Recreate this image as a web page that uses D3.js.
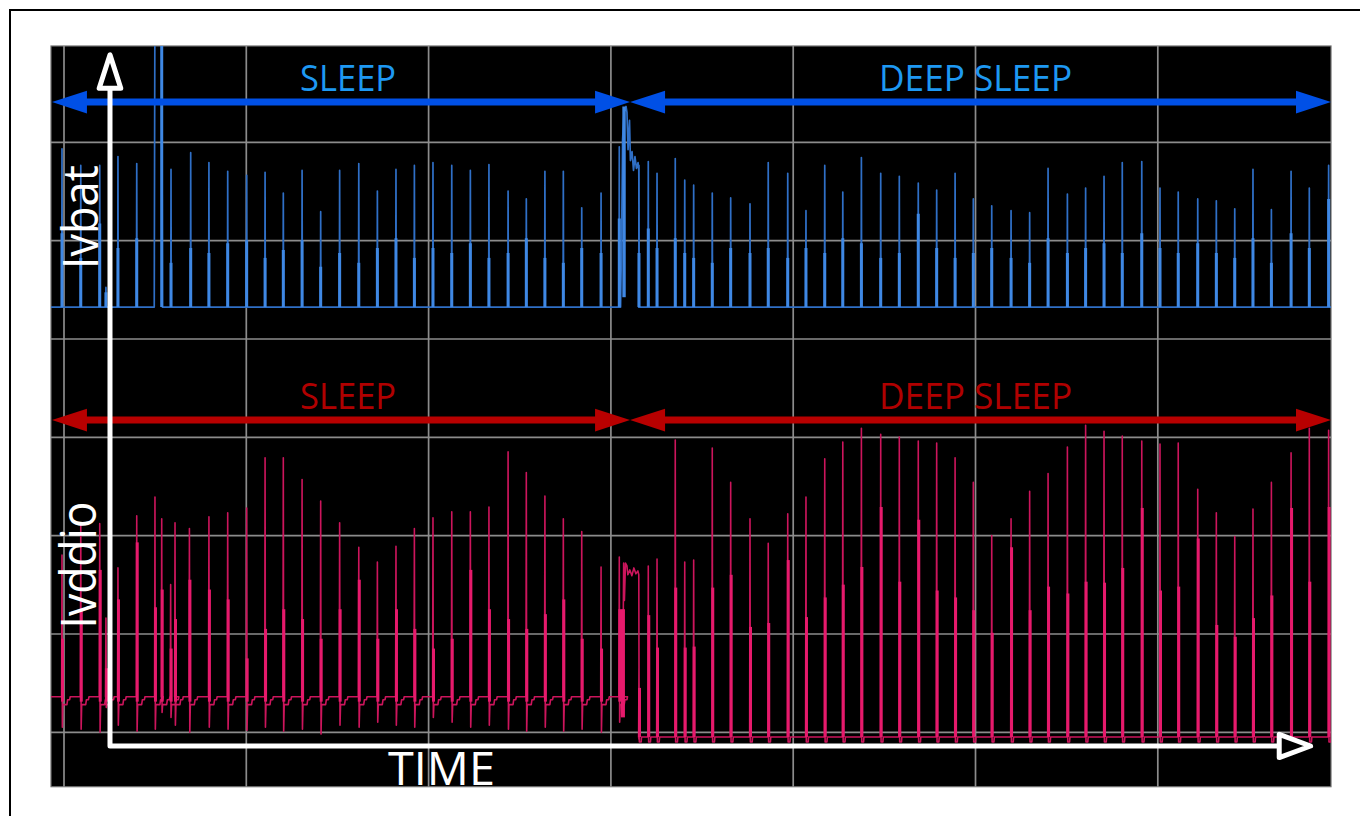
<!DOCTYPE html>
<html><head><meta charset="utf-8">
<script src="https://cdn.jsdelivr.net/npm/d3@7"></script>
<style>body{margin:0;background:#fff}svg{display:block}</style>
</head><body><svg id="c" width="1360" height="816"></svg>
<script>
// ---------------- DATA (time in ms, amplitude in screen divisions) ----------------
const gridTimes = [0, 10, 20, 30, 40, 50, 60];
const gridLevels = [0, 1, 2, 3, 4, 5, 6];

const phaseNames = ["SLEEP", "DEEP SLEEP"];
const phaseStart = [-0.66, 31.05];
const phaseEnd = [31.05, 69.50];
const phaseLabelT = [12.95, 44.71];

const channelNames = ["Ivbat", "Ivddio"];

// Ivbat (blue) pulses
const ivbatT = [-0.11, 0.92, 1.96, 2.30, 2.96, 3.99, 5.87, 6.95, 7.95, 8.98,
  10.02, 11.03, 12.03, 13.06, 14.08, 15.12, 16.17, 17.19, 18.21, 19.22,
  20.24, 21.27, 22.29, 23.31, 24.36, 25.36, 26.38, 27.39, 28.40, 29.46, 30.46,
  31.54, 32.05, 32.53, 33.53, 34.05, 34.54, 35.56, 36.57, 37.63, 38.63,
  39.70, 40.70, 41.73, 42.72, 43.74, 44.80, 45.82, 46.86, 47.87, 48.88,
  49.88, 50.89, 51.95, 52.97, 53.98, 55.04, 56.04, 57.05, 58.05, 59.12,
  60.12, 61.12, 62.19, 63.21, 64.22, 65.22, 66.23, 67.31, 68.31, 69.37];
const ivbatPeak = [1.61, 1.44, 1.44, 0.20, 1.53, 1.46, 1.40, 1.57, 1.47, 1.38,
  1.34, 1.37, 1.16, 1.39, 0.97, 1.39, 1.46, 1.18, 1.40, 1.44,
  1.47, 1.44, 1.39, 1.45, 1.18, 1.10, 1.38, 1.38, 1.01, 1.16, 1.63,
  1.44, 1.48, 1.36, 1.51, 1.29, 1.24, 1.16, 1.11, 1.05, 1.47,
  1.36, 0.98, 1.44, 1.17, 1.52, 1.36, 1.33, 1.26, 1.19, 1.36,
  1.10, 1.03, 0.98, 0.96, 1.41, 1.15, 1.21, 1.33, 1.47, 1.48,
  1.21, 1.17, 1.10, 1.08, 1.00, 1.40, 0.99, 1.38, 1.21, 1.44];
const ivbatMid = [0.75, 0.50, 0.85, 0.15, 0.60, 0.70, 0.45, 0.60, 0.55, 0.65,
  0.68, 0.50, 0.58, 0.68, 0.41, 0.55, 0.45, 0.60, 0.70, 0.50,
  0.60, 0.55, 0.65, 0.50, 0.55, 0.70, 0.50, 0.45, 0.60, 0.55, 0.90,
  0.55, 0.80, 0.60, 0.70, 0.55, 0.50, 0.45, 0.60, 0.55, 0.60,
  0.50, 0.60, 0.55, 0.70, 0.65, 0.50, 0.55, 0.95, 0.60, 0.50,
  0.55, 0.60, 0.50, 0.45, 0.70, 0.55, 0.60, 0.65, 0.55, 0.75,
  0.60, 0.55, 0.65, 0.55, 0.50, 0.70, 0.45, 0.75, 0.60, 1.10];
// wide blue pulse that leaves the screen, and the sleep->deep-sleep transition burst
const ivbatWideT = [4.95, 4.99, 5.36, 5.40];
const ivbatWideV = [0, 3.3, 3.3, 0];
const ivbatBurstT = [30.53, 30.58, 30.64, 30.72, 30.83, 30.88, 30.94, 31.02, 31.07, 31.16, 31.24, 31.32, 31.40, 31.49, 31.53, 31.55];
const ivbatBurstV = [0, 0.58, 1.70, 1.98, 2.04, 1.98, 1.60, 1.90, 1.49, 1.58, 1.39, 1.53, 1.41, 1.47, 1.39, 0];

// Ivddio (pink) pulses - sleep
const ivddioSleepT = [-0.11, 0.92, 1.96, 2.30, 2.96, 3.99, 4.99, 5.36, 5.85, 6.09,
  6.88, 7.95, 8.98, 10.02, 11.03, 12.03, 13.06, 14.08, 15.12, 16.17,
  17.19, 18.21, 19.22, 20.24, 21.27, 22.29, 23.31, 24.36, 25.36, 26.38,
  27.39, 28.40, 29.46, 30.46];
const ivddioSleepPeak = [1.85, 2.18, 2.17, 1.21, 1.72, 2.25, 2.44, 2.22, 1.55, 2.18,
  2.12, 2.24, 2.28, 2.33, 2.84, 2.84, 2.62, 2.40, 2.18, 1.93,
  1.78, 1.94, 2.12, 2.23, 2.29, 2.29, 2.34, 2.90, 2.69, 2.45,
  2.22, 2.09, 1.73, 1.83];
const ivddioSleepMid = [1.00, 1.30, 1.70, 0.70, 1.40, 1.98, 1.32, 1.50, 0.90, 1.20,
  1.60, 1.50, 1.40, 0.80, 1.10, 1.30, 1.20, 1.00, 1.30, 1.60,
  1.00, 1.30, 1.10, 0.90, 1.00, 1.70, 1.30, 1.20, 1.10, 1.25,
  1.40, 1.00, 0.90, 1.30];
const ivddioSleepDip = [0.10, 0.08, 0.05, 0.30, 0.12, 0.06, 0.08, 0.25, 0.20, 0.12,
  0.05, 0.10, 0.08, 0.07, 0.10, 0.06, 0.08, 0.03, 0.12, 0.10,
  0.15, 0.12, 0.10, 0.20, 0.15, 0.10, 0.12, 0.08, 0.06, 0.10,
  0.06, 0.08, 0.05, 0.15];
const ivddioSleepLevel = 0.41;
// transition burst
const ivddioBurstT = [30.50, 30.54, 30.58, 30.62, 30.66, 30.70, 30.74, 30.80, 30.88, 30.93, 31.04, 31.15, 31.26, 31.37, 31.48, 31.53, 31.55];
const ivddioBurstV = [0.41, 0.99, 0.38, 1.29, 0.78, 1.77, 1.39, 1.77, 1.74, 1.65, 1.70, 1.64, 1.72, 1.66, 1.69, 1.65, -0.03];
// Ivddio - deep sleep
const ivddioDeepT = [31.54, 32.05, 32.53, 33.53, 34.05, 34.54, 35.56, 36.57, 37.63, 38.63,
  39.70, 40.70, 41.73, 42.72, 43.74, 44.80, 45.82, 46.86, 47.87, 48.88,
  49.88, 50.89, 51.95, 52.97, 53.98, 55.04, 56.04, 57.05, 58.05, 59.12,
  60.12, 61.12, 62.19, 63.21, 64.22, 65.22, 66.23, 67.31, 68.31, 69.37];
const ivddioDeepPeak = [0.70, 1.74, 1.81, 3.02, 1.78, 1.80, 2.94, 2.59, 2.22, 1.97,
  2.27, 2.44, 2.83, 3.00, 3.14, 3.08, 3.05, 3.01, 2.99, 2.84,
  2.59, 2.05, 2.22, 2.50, 2.68, 2.95, 3.17, 3.11, 3.06, 3.01,
  2.98, 2.99, 2.52, 2.28, 2.04, 2.32, 2.59, 2.89, 3.14, 3.12];
const ivddioDeepMid = [0.50, 1.24, 0.91, 1.52, 0.91, 0.92, 1.52, 1.65, 1.12, 1.16,
  1.80, 1.22, 1.42, 1.55, 1.73, 2.34, 1.58, 2.21, 1.49, 1.42,
  1.29, 1.06, 1.93, 1.29, 1.53, 1.46, 1.58, 1.57, 1.72, 2.33,
  1.49, 1.53, 2.02, 1.14, 1.02, 1.21, 1.44, 2.33, 1.58, 2.34];

// channel vertical offsets (divisions) on the screen
const channelOffset = [4.325, -0.048];

// ---------------- CHART ----------------
const svg = d3.select("#c");
const x = d3.scaleLinear().domain([-0.713, 69.50]).range([51, 1331]);
const y = d3.scaleLinear().domain([-0.553, 6.98]).range([786.7, 46]);
const [t0, t1] = x.domain(), [v0, v1] = y.domain();

// outer frame (only top/left visible)
svg.append("rect").attr("x", 10).attr("y", 10).attr("width", 1400).attr("height", 900)
  .attr("fill", "none").attr("stroke", "#000").attr("stroke-width", 2);

// screen
svg.append("rect").attr("x", x(t0)).attr("y", y(v1)).attr("width", x(t1) - x(t0)).attr("height", y(v0) - y(v1))
  .attr("fill", "#000").attr("stroke", "#6e6e6e").attr("stroke-width", 1.2);

svg.append("clipPath").attr("id", "clip").append("rect")
  .attr("x", x(t0)).attr("y", y(v1)).attr("width", x(t1) - x(t0)).attr("height", y(v0) - y(v1));

const grid = svg.append("g").attr("stroke", "#8c8c8c").attr("stroke-width", 1.7);
grid.selectAll("line.v").data(gridTimes).join("line").attr("class", "v")
  .attr("x1", d => x(d)).attr("x2", d => x(d)).attr("y1", y(v1)).attr("y2", y(v0));
grid.selectAll("line.h").data(gridLevels).join("line").attr("class", "h")
  .attr("x1", x(t0)).attr("x2", x(t1)).attr("y1", d => y(d)).attr("y2", d => y(d));

const plot = svg.append("g").attr("clip-path", "url(#clip)");
const line = d3.line().x(d => x(d[0])).y(d => y(d[1]));

// ---- Ivbat trace ----
(function () {
  const off = channelOffset[0];
  const events = [];
  ivbatT.forEach((t, i) => events.push({ t, p: [[t - 0.015, 0], [t, ivbatPeak[i]], [t + 0.015, 0]] }));
  events.push({ t: ivbatWideT[0], p: ivbatWideT.map((t, i) => [t, ivbatWideV[i]]) });
  events.push({ t: ivbatBurstT[0], p: ivbatBurstT.map((t, i) => [t, ivbatBurstV[i]]) });
  events.sort((a, b) => a.t - b.t);
  const pts = [[t0, 0]];
  events.forEach(e => pts.push(...e.p));
  pts.push([t1, 0]);
  plot.append("path").datum(pts.map(d => [d[0], d[1] + off])).attr("d", line)
    .attr("fill", "none").attr("stroke", "#2f6fc6").attr("stroke-width", 1.7).attr("stroke-linejoin", "round");
  plot.selectAll("line.bthick").data(ivbatT).join("line").attr("class", "bthick")
    .attr("x1", d => x(d)).attr("x2", d => x(d))
    .attr("y1", y(off)).attr("y2", (d, i) => y(off + ivbatMid[i]))
    .attr("stroke", "#3f88e4").attr("stroke-width", 3);
  plot.append("line").attr("x1", x(ivbatWideT[2])).attr("x2", x(ivbatWideT[2]))
    .attr("y1", y(off)).attr("y2", y(off + ivbatWideV[2])).attr("stroke", "#3f88e4").attr("stroke-width", 3);
  plot.append("line").attr("x1", x(ivbatBurstT[3])).attr("x2", x(ivbatBurstT[3]))
    .attr("y1", y(off + 0.1)).attr("y2", y(off + ivbatBurstV[4])).attr("stroke", "#3f88e4").attr("stroke-width", 3.4);
})();

// ---- Ivddio trace ----
(function () {
  const off = channelOffset[1];
  const b = ivddioSleepLevel;
  const pts = [[t0, b]];
  ivddioSleepT.forEach((t, i) => {
    pts.push([t - 0.02, b], [t, ivddioSleepPeak[i]], [t + 0.02, ivddioSleepDip[i]],
      [t + 0.05, b - 0.08], [t + 0.27, b - 0.08], [t + 0.31, b - 0.03], [t + 0.42, b - 0.03], [t + 0.45, b]);
  });
  ivddioBurstT.forEach((t, i) => pts.push([t, ivddioBurstV[i]]));
  ivddioDeepT.forEach((t, i) => {
    pts.push([t - 0.02, 0], [t, ivddioDeepPeak[i]], [t + 0.02, -0.05], [t + 0.12, -0.05], [t + 0.14, 0]);
  });
  pts.push([t1, 0]);
  plot.append("path").datum(pts.map(d => [d[0], d[1] + off])).attr("d", line)
    .attr("fill", "none").attr("stroke", "#cc155c").attr("stroke-width", 1.6).attr("stroke-linejoin", "round");
  plot.selectAll("line.pthick").data(ivddioSleepT).join("line").attr("class", "pthick")
    .attr("x1", d => x(d) + 0.5).attr("x2", d => x(d) + 0.5)
    .attr("y1", y(off + b - 0.05)).attr("y2", (d, i) => y(off + ivddioSleepMid[i]))
    .attr("stroke", "#e61a6c").attr("stroke-width", 3);
  plot.selectAll("line.pthick2").data(ivddioDeepT).join("line").attr("class", "pthick2")
    .attr("x1", d => x(d) + 0.5).attr("x2", d => x(d) + 0.5)
    .attr("y1", y(off)).attr("y2", (d, i) => y(off + ivddioDeepMid[i]))
    .attr("stroke", "#e61a6c").attr("stroke-width", 3);
  plot.append("line").attr("x1", x(ivddioBurstT[4])).attr("x2", x(ivddioBurstT[4]))
    .attr("y1", y(off + 0.2)).attr("y2", y(off + 1.3)).attr("stroke", "#e61a6c").attr("stroke-width", 4);
})();

// ---- phase arrows and labels ----
const arrowLevels = [6.41, 3.176];
const labelLevels = [6.522, 3.285];
const arrowColors = ["#0050e6", "#b80000"];
const labelColors = ["#1e98f2", "#b00000"];
const labelLens = [96, 193];
const HL = 35, HH = 11.4;
arrowLevels.forEach((lv, c) => {
  const g = svg.append("g");
  const yy = y(lv);
  phaseNames.forEach((name, i) => {
    const xa = x(phaseStart[i]), xb = x(phaseEnd[i]);
    g.append("line").attr("x1", xa + HL - 2).attr("x2", xb - HL + 2).attr("y1", yy).attr("y2", yy)
      .attr("stroke", arrowColors[c]).attr("stroke-width", 7);
    g.append("path").attr("d", `M${xa},${yy}L${xa + HL},${yy - HH}L${xa + HL},${yy + HH}Z`).attr("fill", arrowColors[c]);
    g.append("path").attr("d", `M${xb},${yy}L${xb - HL},${yy - HH}L${xb - HL},${yy + HH}Z`).attr("fill", arrowColors[c]);
    g.append("text").attr("x", x(phaseLabelT[i])).attr("y", y(labelLevels[c]))
      .attr("font-family", "'Open Sans', sans-serif").attr("font-size", 36.5)
      .attr("textLength", labelLens[i]).attr("lengthAdjust", "spacingAndGlyphs")
      .attr("fill", labelColors[c]).text(name);
  });
});

// ---- white axes ----
const originT = 2.523, originV = -0.139;
const axisTipV = 6.89, axisBaseV = 6.55;
const axisBaseT = 66.66, axisTipT = 68.38;
const ax = svg.append("g").attr("stroke", "#fff").attr("stroke-width", 5)
  .attr("stroke-linejoin", "round").attr("stroke-linecap", "round");
ax.append("path").attr("fill", "none")
  .attr("d", `M${x(originT)},${y(axisBaseV)}L${x(originT)},${y(originV)}L${x(axisBaseT)},${y(originV)}`);
ax.append("path").attr("fill", "#000")
  .attr("d", `M${x(originT)},${y(axisTipV)}L${x(originT) - 10.8},${y(axisBaseV)}L${x(originT) + 10.8},${y(axisBaseV)}Z`);
ax.append("path").attr("fill", "#000")
  .attr("d", `M${x(axisTipT)},${y(originV)}L${x(axisBaseT)},${y(originV) - 11.6}L${x(axisBaseT)},${y(originV) + 11.6}Z`);

const txt = svg.append("g").attr("fill", "#fff").attr("font-family", "'Open Sans', sans-serif");
txt.append("text").attr("x", x(17.77)).attr("y", y(-0.536)).attr("font-size", 45)
  .attr("textLength", 107).attr("lengthAdjust", "spacingAndGlyphs").text("TIME");
const chanLabelT = [1.89, 1.73], chanLabelV = [4.71, 1.056], chanLens = [104, 127];
channelNames.forEach((n, i) => {
  txt.append("text").attr("transform", `translate(${x(chanLabelT[i])},${y(chanLabelV[i])}) rotate(-90)`)
    .attr("font-size", 49).attr("textLength", chanLens[i]).attr("lengthAdjust", "spacingAndGlyphs").text(n);
});
</script></body></html>
